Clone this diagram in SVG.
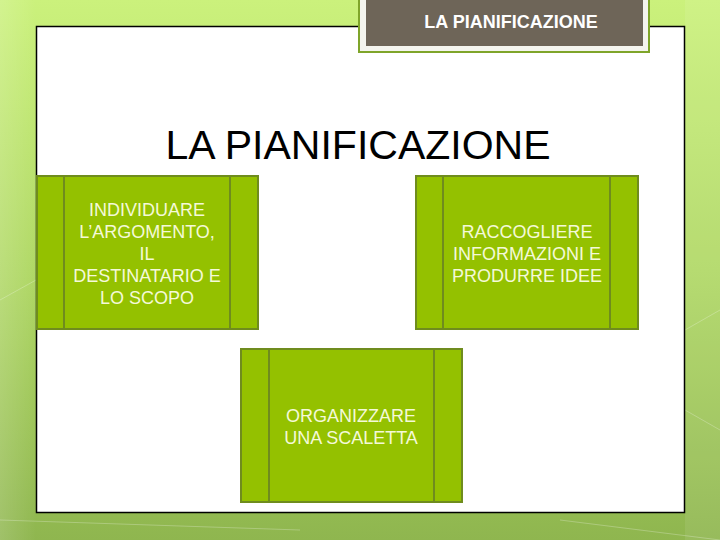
<svg xmlns="http://www.w3.org/2000/svg" width="720" height="540" viewBox="0 0 720 540">
<defs>
<linearGradient id="bg" x1="0" y1="0" x2="0" y2="1">
<stop offset="0" stop-color="#cbf17c"/>
<stop offset="0.5" stop-color="#b0d865"/>
<stop offset="1" stop-color="#8fb64f"/>
</linearGradient>
<linearGradient id="side" x1="0" y1="0" x2="1" y2="0">
<stop offset="0" stop-color="#ffffff" stop-opacity="0.15"/>
<stop offset="1" stop-color="#ffffff" stop-opacity="0"/>
</linearGradient>
</defs>
<style>
.box{fill:#94c100;stroke:#6f8c1e;stroke-width:2}
.div{stroke:#6f8c1e;stroke-width:2}
.t{font-family:"Liberation Sans",Arial,sans-serif;font-size:18px;fill:#f4f9d8;text-anchor:middle}
</style>
<rect width="720" height="540" fill="url(#bg)"/>
<rect x="0" y="0" width="36" height="540" fill="url(#side)"/>
<rect x="685" y="0" width="35" height="540" fill="#ffffff" opacity="0.08"/>
<g stroke="#ffffff" stroke-opacity="0.25" fill="none" stroke-width="1">
<path d="M685 330 L720 310 M685 410 L720 430 M560 520 L720 540 M0 520 L300 530 M0 300 L36 280"/>
</g>
<rect x="36.5" y="26.5" width="648" height="486" fill="#ffffff" stroke="#000000" stroke-width="1.5"/>
<g id="tab">
<rect x="359" y="-2" width="290" height="54" fill="#f4f4ee" stroke="#7fa52a" stroke-width="2"/>
<rect x="366" y="-2" width="277" height="48" fill="#6e6558"/>
<text x="511" y="28" font-family="'Liberation Sans',Arial,sans-serif" font-size="18" font-weight="bold" fill="#ffffff" text-anchor="middle">LA PIANIFICAZIONE</text>
</g>
<text x="358" y="159" font-family="'Liberation Sans',Arial,sans-serif" font-size="41" fill="#000000" text-anchor="middle">LA PIANIFICAZIONE</text>
<g id="node1">
<rect class="box" x="37" y="176" width="221" height="153"/>
<line class="div" x1="64" y1="176" x2="64" y2="329"/>
<line class="div" x1="230" y1="176" x2="230" y2="329"/>
<text class="t" x="147" y="216">INDIVIDUARE</text>
<text class="t" x="147" y="238">L’ARGOMENTO,</text>
<text class="t" x="147" y="260">IL</text>
<text class="t" x="147" y="282">DESTINATARIO E</text>
<text class="t" x="147" y="304">LO SCOPO</text>
</g>
<g id="node2">
<rect class="box" x="416" y="176" width="222" height="153"/>
<line class="div" x1="443" y1="176" x2="443" y2="329"/>
<line class="div" x1="610" y1="176" x2="610" y2="329"/>
<text class="t" x="527" y="238">RACCOGLIERE</text>
<text class="t" x="527" y="260">INFORMAZIONI E</text>
<text class="t" x="527" y="282">PRODURRE IDEE</text>
</g>
<g id="node3">
<rect class="box" x="241" y="349" width="221" height="153"/>
<line class="div" x1="269" y1="349" x2="269" y2="502"/>
<line class="div" x1="434" y1="349" x2="434" y2="502"/>
<text class="t" x="351" y="422">ORGANIZZARE</text>
<text class="t" x="351" y="444">UNA SCALETTA</text>
</g>
<g id="connectors"/>
</svg>
